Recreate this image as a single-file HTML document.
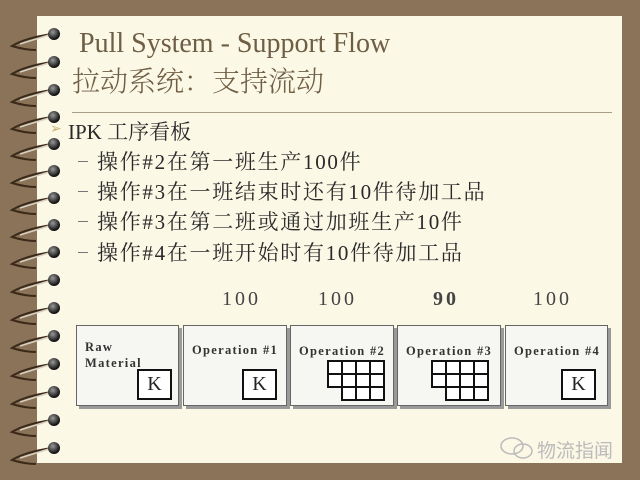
<!DOCTYPE html>
<html><head><meta charset="utf-8"><style>
html,body{margin:0;padding:0;}
body{width:640px;height:480px;background:#8b7359;position:relative;overflow:hidden;font-family:"Liberation Serif","Noto Serif CJK SC",serif;}
.panel{position:absolute;left:37px;top:16px;width:585px;height:447px;background:#fcf8e6;}
.t{position:absolute;white-space:nowrap;}
.title{color:#6e5e44;font-size:28px;}
.txt{color:#2a2a2a;font-size:21px;font-family:"Liberation Serif","Noto Serif CJK SC",serif;}
.it{letter-spacing:1.7px;}
.dash{position:absolute;left:78px;width:10px;height:1px;background:#777;}
.num{color:#444;font-size:20px;letter-spacing:3px;}
.box{position:absolute;top:325px;height:79px;background:#f6f6f3;border:1px solid #666;box-shadow:3px 3px 0 #9a9a9a;}
.lab{position:absolute;font-family:"Liberation Serif",serif;font-weight:bold;font-size:12.5px;color:#333;letter-spacing:1.3px;line-height:16px;}
.k{position:absolute;width:31px;height:27px;border:2px solid #111;background:#fff;font-size:20px;text-align:center;line-height:27px;color:#222;}
</style></head><body>
<div class="panel"></div>
<svg style="position:absolute;left:0;top:0" width="80" height="480">
<defs><radialGradient id="g" cx="40%" cy="35%" r="60%"><stop offset="0" stop-color="#999"/><stop offset="1" stop-color="#111"/></radialGradient>
<g id="r"><path d="M52,0 Q25,4 12,12 Q25,16 36,16" stroke="#3b2a1a" stroke-width="2" fill="none"/><path d="M52,0 L20,10" stroke="#d8d0c0" stroke-width="1.5" fill="none"/><circle cx="54" cy="0" r="6" fill="url(#g)"/></g></defs>
<use href="#r" y="34"/><use href="#r" y="62"/><use href="#r" y="90"/><use href="#r" y="117"/>
<use href="#r" y="144"/><use href="#r" y="171"/><use href="#r" y="198"/><use href="#r" y="225"/>
<use href="#r" y="252"/><use href="#r" y="280"/><use href="#r" y="308"/><use href="#r" y="336"/>
<use href="#r" y="364"/><use href="#r" y="392"/><use href="#r" y="420"/><use href="#r" y="448"/>
</svg>

<div class="t title" style="left:79px;top:28px;">Pull System - Support Flow</div>
<div class="t title" style="left:72px;top:60px;font-family:'Noto Serif CJK SC',serif;font-weight:300;">拉动系统：支持流动</div>
<div style="position:absolute;left:72px;top:112px;width:540px;height:1px;background:#a89e88;"></div>

<div class="t" style="left:50px;top:121px;color:#c8b070;font-size:14px;">➢</div>
<div class="t txt" style="left:68px;top:116px;">IPK 工序看板</div>
<div class="dash" style="top:161px;"></div><div class="t txt it" style="left:97px;top:146px;">操作#2在第一班生产100件</div>
<div class="dash" style="top:191px;"></div><div class="t txt it" style="left:97px;top:176px;">操作#3在一班结束时还有10件待加工品</div>
<div class="dash" style="top:221px;"></div><div class="t txt it" style="left:97px;top:206px;">操作#3在第二班或通过加班生产10件</div>
<div class="dash" style="top:252px;"></div><div class="t txt it" style="left:97px;top:237px;">操作#4在一班开始时有10件待加工品</div>

<div class="t num" style="left:222px;top:288px;">100</div>
<div class="t num" style="left:318px;top:288px;">100</div>
<div class="t num" style="left:433px;top:288px;font-weight:bold;">90</div>
<div class="t num" style="left:533px;top:288px;">100</div>

<div class="box" style="left:76px;width:101px;"><div class="lab" style="left:8px;top:13px;">Raw<br>Material</div><div class="k" style="left:60px;top:43px;">K</div></div>
<div class="box" style="left:183px;width:102px;"><div class="lab" style="left:8px;top:16px;">Operation #1</div><div class="k" style="left:58px;top:43px;">K</div></div>
<div class="box" style="left:290px;width:102px;"><div class="lab" style="left:8px;top:17px;">Operation #2</div>
<svg style="position:absolute;left:36px;top:34px" width="62" height="42"><g fill="#fff" stroke="#111" stroke-width="2">
<rect x="1" y="1" width="14" height="13"/><rect x="15" y="1" width="14" height="13"/><rect x="29" y="1" width="14" height="13"/><rect x="43" y="1" width="14" height="13"/>
<rect x="1" y="14" width="14" height="13"/><rect x="15" y="14" width="14" height="13"/><rect x="29" y="14" width="14" height="13"/><rect x="43" y="14" width="14" height="13"/>
<rect x="15" y="27" width="14" height="13"/><rect x="29" y="27" width="14" height="13"/><rect x="43" y="27" width="14" height="13"/></g></svg></div>
<div class="box" style="left:397px;width:102px;"><div class="lab" style="left:8px;top:17px;">Operation #3</div>
<svg style="position:absolute;left:33px;top:34px" width="62" height="42"><g fill="#fff" stroke="#111" stroke-width="2">
<rect x="1" y="1" width="14" height="13"/><rect x="15" y="1" width="14" height="13"/><rect x="29" y="1" width="14" height="13"/><rect x="43" y="1" width="14" height="13"/>
<rect x="1" y="14" width="14" height="13"/><rect x="15" y="14" width="14" height="13"/><rect x="29" y="14" width="14" height="13"/><rect x="43" y="14" width="14" height="13"/>
<rect x="15" y="27" width="14" height="13"/><rect x="29" y="27" width="14" height="13"/><rect x="43" y="27" width="14" height="13"/></g></svg></div>
<div class="box" style="left:505px;width:101px;"><div class="lab" style="left:8px;top:17px;">Operation #4</div><div class="k" style="left:55px;top:43px;">K</div></div>

<svg style="position:absolute;left:498px;top:436px" width="40" height="26"><g fill="none" stroke="#bbb" stroke-width="1.5"><ellipse cx="14" cy="10" rx="11" ry="8"/><ellipse cx="25" cy="15" rx="9" ry="7"/></g></svg>
<div class="t" style="left:537px;top:436px;font-family:'Noto Sans CJK SC',sans-serif;font-size:19px;color:#bbb;">物流指闻</div>
</body></html>
